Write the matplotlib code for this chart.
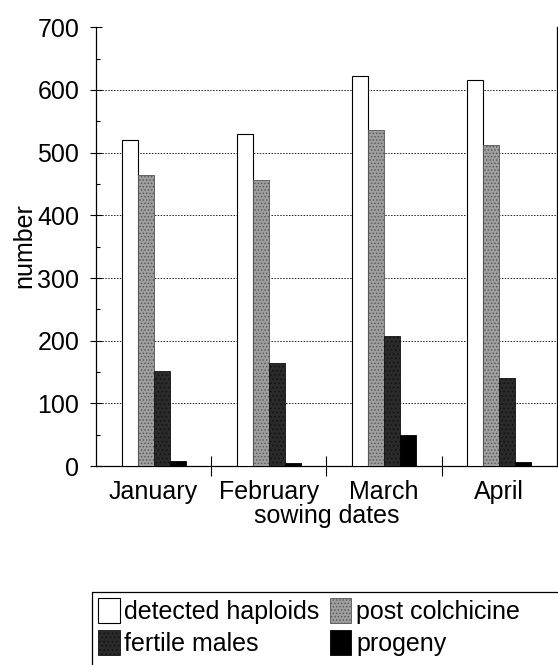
import numpy as np
import matplotlib
matplotlib.use('Agg')
import matplotlib.pyplot as plt
from matplotlib.lines import Line2D
from matplotlib.ticker import MultipleLocator, FixedLocator

plt.rcParams['font.family'] = ['Liberation Sans', 'DejaVu Sans']
plt.rcParams['hatch.linewidth'] = 0.6

# données
months = ['January', 'February', 'March', 'April']
haploids = [520, 530, 622, 616]
colchicine = [465, 457, 536, 512]
fertile = [152, 165, 207, 140]
progeny = [8, 5, 50, 7]

series = [
    ('detected haploids', haploids, dict(facecolor='white', edgecolor='black', linewidth=0.8)),
    ('post colchicine', colchicine, dict(facecolor='#9e9e9e', edgecolor='#555555', hatch='.....', linewidth=0.6)),
    ('fertile males', fertile, dict(facecolor='#2a2a2a', edgecolor='#111111', hatch='....', linewidth=0.6)),
    ('progeny', progeny, dict(facecolor='black', edgecolor='black', linewidth=0.6)),
]

FS = 18

fig = plt.figure(figsize=(5.58, 6.65), dpi=100)
ax = fig.add_axes([0.172, 0.299, 0.826, 0.660])

x = np.arange(len(months))
w = 0.139
handles = []
for i, (lab, vals, st) in enumerate(series):
    b = ax.bar(x + (i - 1.5) * w, vals, w, label=lab, zorder=3, **st)
    handles.append(b)

ax.set_xlim(-0.5, len(months) - 0.5)
ax.set_ylim(0, 700)
ax.yaxis.set_major_locator(MultipleLocator(100))
ax.yaxis.set_minor_locator(MultipleLocator(50))
ax.set_xticks(x)
ax.set_xticklabels(months, fontsize=FS)
ax.xaxis.set_minor_locator(FixedLocator(x[:-1] + 0.5))
ax.tick_params(axis='x', which='major', length=0, pad=10)
ax.tick_params(axis='x', which='minor', direction='inout', length=14, width=0.8)
ax.tick_params(axis='y', which='major', direction='inout', length=8, width=0.8, labelsize=FS, pad=8)
ax.tick_params(axis='y', which='minor', direction='in', length=3, width=0.8)

for v in range(100, 700, 100):
    ax.axhline(v, color='#222222', linestyle=(0, (1.5, 1.5)), linewidth=0.7, zorder=1)

ax.spines['top'].set_visible(False)
for s in ['left', 'right', 'bottom']:
    ax.spines[s].set_linewidth(0.9)

ax.set_ylabel('number', fontsize=FS)
ax.yaxis.set_label_coords(-0.13, 0.502)
ax.set_xlabel('sowing dates', fontsize=FS, labelpad=0)

# légende : remplie par colonnes -> ordre réarrangé
order = [0, 2, 1, 3]
fig.legend(handles=[handles[k] for k in order], loc='upper left',
           bbox_to_anchor=(92 / 558, 1 - 592 / 665),
           ncol=2, fontsize=FS, frameon=False,
           handlelength=0.85, handleheight=1.15, handletextpad=0.2,
           columnspacing=0.4, borderpad=0.25, labelspacing=0.25, borderaxespad=0)
# cadre de légende (coupé à droite et en bas)
x0, y0 = 92 / 558, 1 - 592 / 665
fig.add_artist(Line2D([x0, x0, 1.0], [0.0, y0, y0], transform=fig.transFigure,
                      color='black', linewidth=0.9))

fig.savefig('out.png', dpi=100)
